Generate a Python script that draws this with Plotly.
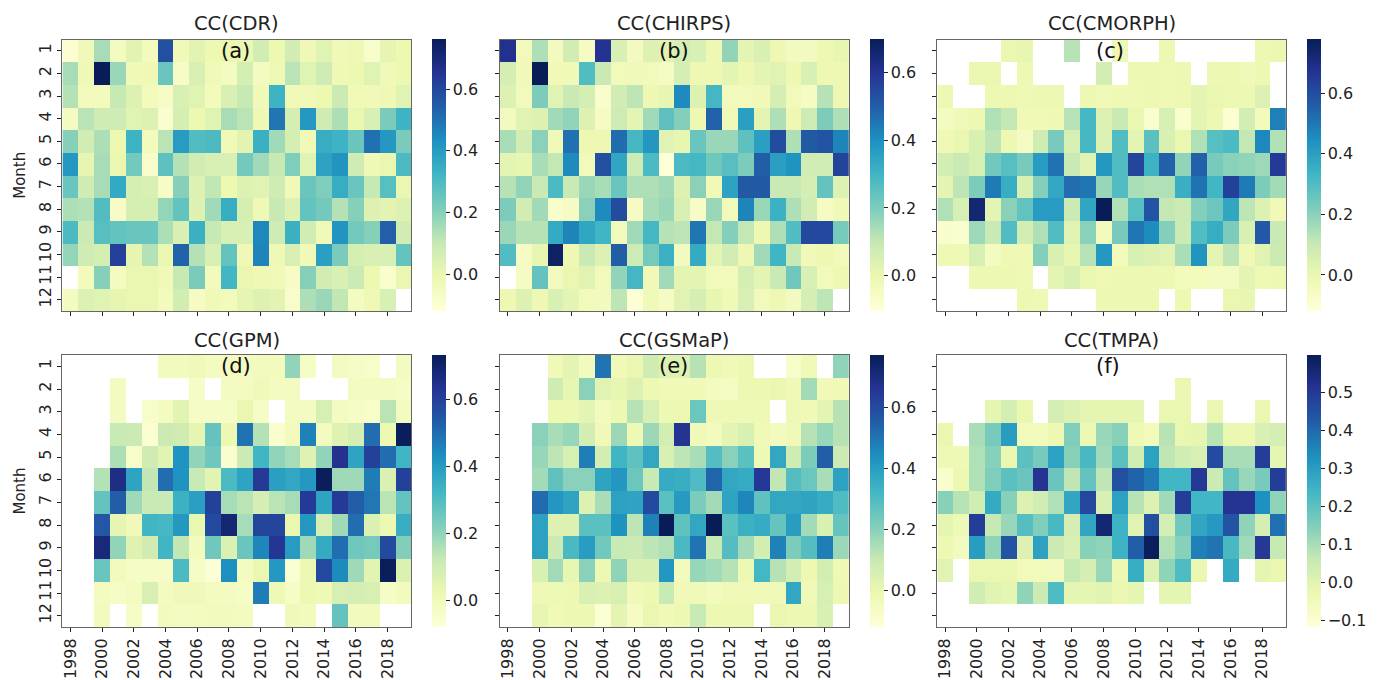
import plotly.graph_objects as go

N = None
years = list(range(1998, 2020))
months = list(range(1, 13))
year_ticks = list(range(1998, 2019, 2))

cc_cdr = [
 [-.1,-.03,.15,-.05,.02,-.04,.58,-.03,.02,-.01,0,0,.07,-.01,.07,-.02,.03,-.03,-.02,-.08,.01,-.01],
 [.15,-.02,.77,.17,-.03,-.02,.25,-.07,.05,-.03,-.05,.06,-.05,-.02,.12,.03,.08,-.02,-.01,.03,-.03,-.01],
 [.13,-.04,-.04,.1,.04,-.04,-.07,.05,.03,-.04,.05,.1,-.03,.33,-.03,-.03,-.01,.09,-.03,-.03,-.02,.03],
 [-.05,.12,.08,.08,.03,.04,-.09,.06,-.01,.03,.15,.12,-.02,.49,.06,.41,.08,.14,0,.05,.22,.33],
 [.2,.07,.14,-.01,.33,-.04,.12,.4,.29,.3,-.03,.02,.34,.16,.06,-.03,.35,.33,.25,.5,.41,.22],
 [.41,.01,.15,0,.23,-.08,.27,.13,.07,.05,.05,.23,.16,.1,.21,.03,.38,.42,.08,-.02,0,.3],
 [.25,.08,.15,.36,.06,.05,-.07,.2,.04,.11,-.01,.04,.03,.08,-.03,.25,.21,.35,.25,.1,.28,0],
 [.14,.13,.29,-.07,.06,.06,.18,.26,.04,.16,.35,.06,-.02,.1,.04,.26,.23,.13,.2,.04,.02,.04],
 [.3,.09,.28,.26,.25,.25,.14,.05,.34,.1,.05,.05,.45,.08,.34,.07,-.03,.42,.23,.2,.54,.07],
 [.18,.08,.06,.62,.01,.13,0,.53,.13,.05,.26,-.02,.46,-.02,.05,-.03,.39,.22,.06,.05,.05,.26],
 [N,-.04,.2,-.05,0,0,-.03,.1,.22,-.04,.32,0,-.02,-.03,-.07,.2,.07,.05,.09,-.01,-.09,0],
 [-.05,.04,.03,.01,0,0,-.04,.07,-.06,-.03,-.04,.01,.04,.02,-.08,.14,.17,.11,-.05,-.02,.05,N],
]
cc_chirps = [
 [.61,-.03,.13,-.04,.07,-.05,.6,.05,-.04,.04,.03,.06,.05,-.01,.17,.02,.05,-.01,-.04,-.04,-.01,.01],
 [.06,-.02,.7,-.02,-.02,.27,.09,-.03,-.02,-.03,-.05,.06,-.01,-.01,.02,-.01,.02,.03,-.01,.05,-.01,-.01],
 [.04,-.03,.2,.03,.09,.06,-.07,.07,.11,-.01,.01,.41,.04,.29,-.03,-.03,-.02,.06,-.03,-.05,.12,-.01],
 [-.04,.03,.04,.15,.17,.04,-.05,.08,.02,.15,.25,.19,-.01,.49,-.02,.36,.02,.13,-.01,.08,.2,.13],
 [.14,.07,.18,-.02,.46,-.01,-.01,.47,.29,.38,.03,.01,.23,.16,.16,.25,.36,.54,.13,.51,.52,.42],
 [.02,.01,.14,.1,.41,-.03,.53,.34,.08,.28,-.1,.28,.29,.22,.26,.2,.5,.36,.39,.07,.07,.56],
 [.12,.17,.09,.28,.09,.16,.14,.23,.13,.13,.15,.04,.18,-.02,.35,.51,.51,.09,.09,.06,.24,.04],
 [.2,.07,.15,-.07,-.05,.18,.41,.54,-.05,.14,.16,.05,-.06,.16,-.03,.42,.16,.31,.13,.07,-.05,-.02],
 [.16,.12,.12,.33,.42,.34,.3,-.03,.15,.29,.12,.11,.45,.1,.19,.1,-.01,.13,.27,.55,.55,.21],
 [.27,-.05,.01,.68,-.01,.09,.04,.5,.08,.21,.31,-.04,.33,.02,.07,-.01,.15,.3,.09,-.02,-.01,-.03],
 [N,-.05,.24,-.04,0,.03,-.03,.17,.29,-.02,.15,.02,.02,-.03,-.03,.06,.02,.09,.22,.05,-.03,-.01],
 [-.01,.04,-.01,.05,.02,-.03,-.04,.11,-.09,-.02,-.05,.03,.06,.01,-.02,.05,-.03,-.01,-.04,.06,.11,N],
]
cc_cmorph = [
 [N,N,N,N,0,.01,N,N,.13,N,N,-.02,N,N,-.01,N,N,N,N,N,-.01,-.005],
 [N,N,0,0,N,-.01,N,N,N,N,.07,N,-.01,-.01,-.02,-.01,N,-.01,-.01,-.03,-.01,N],
 [-.01,N,N,-.01,-.01,-.02,-.01,-.01,N,-.01,-.03,-.02,-.02,-.01,-.02,-.01,.02,0,-.01,-.01,.04,N],
 [-.05,-.03,-.01,.14,.11,-.03,-.03,-.02,.13,.32,.04,.1,0,-.09,.06,-.09,.02,-.01,-.1,.07,-.04,.48],
 [-.02,0,.05,.12,-.01,-.06,.08,.23,.06,.32,.04,.3,.02,.28,.05,0,.14,.29,.31,.11,.46,.14],
 [.07,.1,.06,.24,.29,.23,.41,.51,.1,.03,.42,.3,.62,.34,.55,.19,.55,.23,.2,.19,.17,.65],
 [.02,.12,.22,.49,.36,.05,.21,.37,.52,.5,.18,.3,.15,.14,.14,.35,.51,.33,.63,.49,.22,.16],
 [.14,.06,.73,.02,.2,.27,.41,.41,.09,.38,.78,.14,.29,.58,.11,.09,.21,.25,.38,.12,.04,-.03],
 [-.08,-.09,.17,.1,.3,.07,.14,.3,.03,.2,-.04,.23,.5,.45,.21,.09,.3,.36,.22,.05,.57,.1],
 [-.02,-.02,.06,-.05,-.02,-.02,.21,.05,.01,.13,.42,-.04,.06,.04,.03,.15,.43,.02,.12,-.02,.03,.09],
 [N,N,-.01,-.01,-.01,-.02,N,.02,.05,0,-.02,-.01,-.01,-.01,-.01,-.04,-.04,-.05,-.05,.02,-.02,-.01],
 [N,N,N,N,N,-.01,-.02,N,N,N,-.01,-.01,-.01,-.01,N,-.01,N,N,0,.01,N,N],
]
cc_gpm = [
 [N,N,N,N,N,N,-.01,-.01,0,-.02,-.02,-.02,-.01,-.01,.2,-.03,N,-.02,-.03,-.04,N,-.02],
 [N,N,N,-.02,N,N,N,N,-.03,N,-.02,-.02,0,-.02,-.02,N,N,N,-.02,-.02,-.02,-.03],
 [N,N,N,-.02,N,-.04,-.02,.05,-.03,-.03,-.03,.03,-.03,N,-.02,-.02,.08,-.02,-.03,-.04,.14,-.02],
 [N,N,N,.12,.11,-.06,.11,.1,.04,.27,.02,.49,.15,-.05,-.01,.46,-.02,.06,.09,.5,.02,.73],
 [N,N,N,.16,-.04,.1,.05,.42,.2,.25,-.05,.11,.33,.2,.17,.06,.2,.64,.38,.6,.5,.33],
 [N,N,.15,.66,.38,.13,.5,.42,.12,.05,.31,.38,.62,.39,.37,.41,.73,.18,.18,.47,.07,.6],
 [N,N,.27,.53,.18,.12,.12,.34,.39,.6,.17,.14,.09,.14,.17,.62,.38,.62,.53,.48,.14,.27],
 [N,N,.55,.04,0,.33,.32,.41,.03,.58,.69,.17,.59,.59,.03,.41,.08,.18,.5,.07,.02,.35],
 [N,N,.68,.2,.06,.1,.33,.13,-.01,.25,.07,.26,.45,.63,.4,.18,.36,.5,.25,.24,.58,.22],
 [N,N,.26,-.01,-.03,-.03,-.03,.31,-.03,-.07,.43,-.02,.03,.41,-.06,.02,.58,.44,.18,.05,.73,.07],
 [N,N,-.02,-.03,-.02,.08,-.02,0,0,-.02,-.02,-.03,.47,.01,-.03,.02,.01,.08,.09,.08,-.03,-.01],
 [N,N,-.01,N,-.03,N,-.01,-.02,-.02,-.01,-.01,-.02,N,N,0,-.01,N,.27,-.01,-.01,N,N],
]
cc_gsmap = [
 [N,N,N,-.03,.02,-.04,.5,-.03,0,.08,.04,.04,.13,-.01,-.03,-.01,N,N,-.07,-.03,N,.19],
 [N,N,N,.08,.01,.2,.03,.01,.04,-.01,-.03,-.03,-.03,-.05,-.06,-.01,-.01,0,-.03,.16,-.03,-.03],
 [N,N,N,-.01,-.01,.02,-.04,-.01,.13,.06,-.01,-.01,.25,-.02,-.02,-.02,-.02,N,-.02,-.03,.02,.13],
 [N,N,.2,.15,.18,.07,-.03,.17,-.02,.17,.07,.66,-.03,-.04,.02,.05,-.03,-.04,-.03,.13,.18,.13],
 [N,N,.18,.12,.06,.48,.07,.33,.27,.37,.05,.12,.15,.29,.2,.28,-.02,.37,.08,.22,.55,.09],
 [N,N,.16,.27,.2,.2,.38,.42,.25,.1,.36,.35,.3,.53,.37,.36,.65,.11,.29,.25,.15,.39],
 [N,N,.52,.42,.38,.04,.15,.39,.38,.6,.28,.41,.22,.16,.38,.46,.27,.37,.37,.38,.36,.3],
 [N,N,.39,.04,.04,.28,.28,.43,.12,.47,.77,.27,.37,.77,.28,.34,.36,.26,.4,.16,.05,.26],
 [N,N,.39,.09,.31,.4,.24,.1,.09,.12,.14,.31,.5,.1,.29,.16,.07,.47,.22,.29,.48,.17],
 [N,N,.05,.16,.01,.2,-.01,.19,.05,.05,.42,-.04,.18,.16,.13,-.01,.32,.13,.07,-.01,.07,-.02],
 [N,N,-.02,-.02,-.01,.05,.04,.06,-.03,-.01,.1,-.03,-.03,-.04,-.03,-.03,-.03,-.03,.37,-.03,.06,-.01],
 [N,N,.01,-.03,-.01,-.01,-.1,.02,-.06,0,-.03,-.01,.1,-.01,-.01,-.01,N,0,-.01,-.01,.05,N],
]
cc_tmpa = [
 [N]*22,
 [N,N,N,N,N,N,N,N,N,N,N,N,N,N,N,-.02,N,N,N,N,N,N],
 [N,N,N,-.01,.03,-.02,N,.03,.01,-.01,-.01,-.01,-.01,N,-.02,-.02,N,-.02,N,N,-.02,N],
 [-.02,N,.1,.16,.3,-.05,-.05,-.03,.15,-.03,.12,.14,-.04,-.05,.08,-.02,-.01,.08,-.02,-.03,.02,.03],
 [-.04,-.04,.09,.14,-.02,.2,.16,.29,.14,.23,.11,.2,.04,.29,.07,.04,.02,.46,.1,.1,.49,-.01],
 [-.09,-.03,.09,.15,.2,.18,.51,.18,.07,.19,.07,.45,.41,.37,.24,.24,.5,.05,.19,.12,.16,.49],
 [.14,.08,.04,.27,.14,.01,.04,.09,.28,.47,.02,.29,.08,.01,.11,.49,.24,.24,.51,.51,.33,.13],
 [-.01,-.04,.49,.06,.12,.21,.15,.23,.03,.28,.56,.25,0,.45,.03,.17,.28,.31,.44,.13,.03,.39],
 [-.03,-.06,.3,.13,.44,.01,.29,.05,.02,.14,.13,.25,.42,.59,.09,.14,.36,.38,.23,.11,.5,.06],
 [0,N,-.02,-.02,-.02,-.05,-.05,-.06,.06,.03,.12,-.03,.26,.01,.13,.22,-.02,N,.27,N,-.01,-.02],
 [N,N,.04,0,-.01,.13,.05,.22,-.01,-.01,0,-.02,-.01,N,-.01,-.01,N,N,N,N,N,N],
 [N]*22,
]

panel_data = [cc_cdr, cc_chirps, cc_cmorph, cc_gpm, cc_gsmap, cc_tmpa]
panel_names = ["CC(CDR)", "CC(CHIRPS)", "CC(CMORPH)", "CC(GPM)", "CC(GSMaP)", "CC(TMPA)"]
panel_tags = ["(a)", "(b)", "(c)", "(d)", "(e)", "(f)"]
z_ranges = [(-.12, .762), (-.105, .698), (-.12, .778), (-.08, .734), (-.118, .77), (-.118, .598)]
cbar_ticks = [[0, .2, .4, .6]] * 5 + [[-.1, 0, .1, .2, .3, .4, .5]]
cbar_labels = [["0.0", "0.2", "0.4", "0.6"]] * 5 + [["\u22120.1", "0.0", "0.1", "0.2", "0.3", "0.4", "0.5"]]

W, H = 1384, 680
col_x = [(60.5, 410), (498.7, 848), (936.7, 1285.7)]
cbar_x = [430.7, 869.3, 1307]
row_y = [(39.5, 311), (355, 627)]
title_y = [24, 340]
YLGNBU = ["#ffffd9", "#edf8b1", "#c7e9b4", "#7fcdbb", "#41b6c4", "#1d91c0", "#225ea8", "#253494", "#081d58"]
FONT = "DejaVu Sans"
INK = "#222222"

fig = go.Figure()
annotations = []
for i, z in enumerate(panel_data):
    c, r = i % 3, i // 3
    suffix = "" if i == 0 else str(i + 1)
    x0, x1 = col_x[c]
    y0, y1 = row_y[r]
    zmin, zmax = z_ranges[i]
    fig.add_trace(go.Heatmap(
        z=z, x=years, y=months, xaxis="x" + suffix, yaxis="y" + suffix,
        zmin=zmin, zmax=zmax, colorscale=YLGNBU, xgap=0, ygap=0,
        colorbar=dict(
            x=cbar_x[c] / W, xanchor="left", xpad=0, y=1 - (y0 + y1) / 2 / H, yanchor="middle",
            len=(y1 - y0) / H, lenmode="fraction", thickness=13.5, ypad=0, outlinewidth=0,
            tickmode="array", tickvals=cbar_ticks[i], ticktext=cbar_labels[i],
            ticks="outside", ticklen=4, tickwidth=1, tickcolor=INK,
            tickfont=dict(family=FONT, size=16, color=INK)),
    ))
    fig.layout["xaxis" + suffix] = dict(
        domain=[x0 / W, x1 / W], range=[1997.5, 2019.5], anchor="y" + suffix,
        tickmode="array", tickvals=year_ticks,
        ticktext=[str(y) for y in year_ticks] if r == 1 else [""] * len(year_ticks),
        tickangle=-90, ticks="outside", ticklen=4, tickwidth=1, tickcolor=INK,
        tickfont=dict(family=FONT, size=16, color=INK),
        showline=True, linecolor="#666666", linewidth=1, mirror=True, showgrid=False, zeroline=False)
    fig.layout["yaxis" + suffix] = dict(
        domain=[1 - y1 / H, 1 - y0 / H], range=[12.5, 0.5], anchor="x" + suffix,
        tickmode="array", tickvals=months,
        ticktext=[str(m) for m in months] if c == 0 else [""] * 12,
        tickangle=-90, ticks="outside", ticklen=4, tickwidth=1, tickcolor=INK,
        tickfont=dict(family=FONT, size=16, color=INK),
        title=dict(text="Month" if c == 0 else "", font=dict(family=FONT, size=15, color=INK), standoff=6),
        showline=True, linecolor="#666666", linewidth=1, mirror=True, showgrid=False, zeroline=False)
    annotations.append(dict(
        text=panel_names[i], xref="paper", yref="paper", x=(x0 + x1) / 2 / W, y=1 - title_y[r] / H,
        xanchor="center", yanchor="middle", showarrow=False, font=dict(family=FONT, size=19.5, color=INK)))
    annotations.append(dict(
        text=panel_tags[i], xref="x" + suffix, yref="y" + suffix, x=2007.4, y=1,
        xanchor="left", yanchor="middle", showarrow=False, font=dict(family=FONT, size=21, color="#111111")))

fig.update_layout(width=W, height=H, margin=dict(l=0, r=0, t=0, b=0), autosize=False,
                  paper_bgcolor="white", plot_bgcolor="white", annotations=annotations)
fig.write_html("out.html", config={"displayModeBar": False},
               post_script="document.body.style.margin='0';document.body.style.overflow='hidden';")
